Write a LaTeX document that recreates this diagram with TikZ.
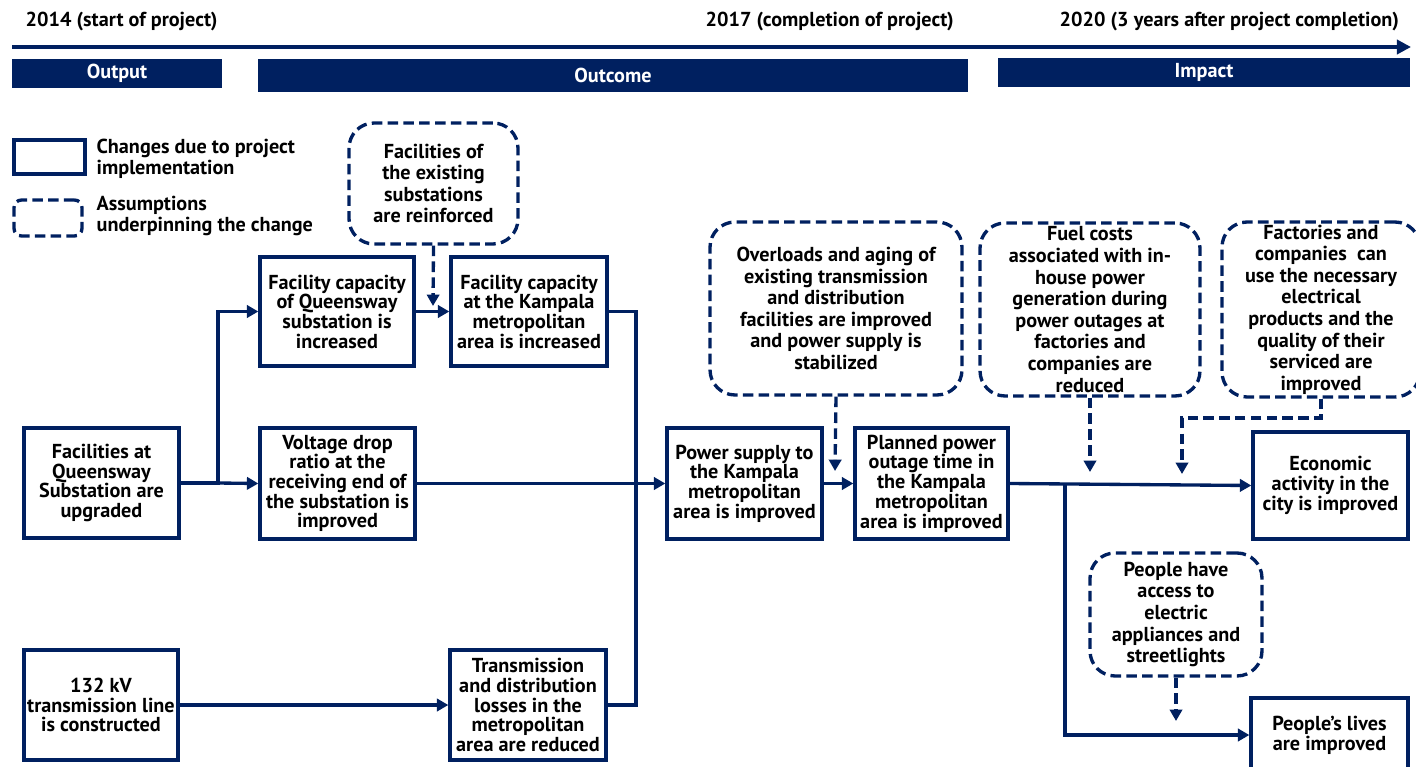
\documentclass[tikz,border=0pt]{standalone}
\usepackage{fontspec}
\setmainfont{PT Sans}
\usetikzlibrary{arrows.meta}
\definecolor{navy}{HTML}{002060}

\begin{document}
\begin{tikzpicture}[x=0.02cm,y=-0.02cm,>={Triangle[length=6.5pt,width=7pt]},
      line width=1.9pt,draw=navy,
      chg/.style={draw=navy,line width=1.9pt,inner sep=1pt,align=center,
        font=\bfseries\fontsize{11.5}{11.2}\selectfont},
      asm/.style={draw=navy,line width=1.9pt,dash pattern=on 6pt off 3pt,
        rounded corners=0.5cm,inner sep=1pt,align=center,
        font=\bfseries\fontsize{11.5}{12.3}\selectfont},
      bar/.style={fill=navy,text=white,inner sep=0pt,
        font=\bfseries\fontsize{11.5}{12}\selectfont},
      yr/.style={anchor=west,inner sep=0pt,font=\bfseries\fontsize{11.5}{12}\selectfont},
      dsh/.style={draw=navy,dash pattern=on 6pt off 3pt}]
    \useasboundingbox (0,0) rectangle (1416,767);

    % time line
    \coordinate (t0) at (12,47);
    \coordinate (t1) at (1411,47);
    \draw[line width=2.8pt,-{Triangle[length=8pt,width=8pt]}] (t0) -- (t1);
    \node[yr] (y14) at (24,22) {2014 (start of project)};
    \node[yr] (y17) at (704,22) {2017 (completion of project)};
    \node[yr] (y20) at (1058,22) {2020 (3 years after project completion)};

    \node[bar,minimum width=4.2cm,minimum height=0.58cm] (output) at (117,73.5) {Output};
    \node[bar,minimum width=14.2cm,minimum height=0.66cm] (outcome) at (613,75.5) {Outcome};
    \node[bar,minimum width=8.24cm,minimum height=0.58cm] (impact) at (1204,72.5) {Impact};

    % legend
    \node[chg,minimum width=1.42cm,minimum height=0.68cm] (lgc) at (49.5,157) {};
    \node[asm,minimum width=1.36cm,minimum height=0.72cm,rounded corners=0.15cm] (lga) at (48,218) {};
    \node[yr,align=left,font=\bfseries\fontsize{11.5}{12.3}\selectfont] (lgct) at (95,159)
      {Changes due to project\\implementation};
    \node[yr,align=left,font=\bfseries\fontsize{11.5}{12.3}\selectfont] (lgat) at (95,216)
      {Assumptions\\underpinning the change};

    % changes
    \node[chg,minimum width=3.1cm,minimum height=2.2cm] (fq) at (101.5,483) {Facilities at\\Queensway\\Substation are\\upgraded};
    \node[chg,minimum width=3.08cm,minimum height=2.18cm] (cq) at (337,311.5) {Facility capacity\\of Queensway\\substation is\\increased};
    \node[chg,minimum width=3.12cm,minimum height=2.18cm] (ck) at (529,311.5) {Facility capacity\\at the Kampala\\metropolitan\\area is increased};
    \node[chg,minimum width=3.1cm,minimum height=2.22cm] (vd) at (337.5,483.5) {Voltage drop\\ratio at the\\receiving end of\\the substation is\\improved};
    \node[chg,minimum width=3.08cm,minimum height=2.2cm] (tl) at (101,705) {132 kV\\transmission line\\is constructed};
    \node[chg,minimum width=3.12cm,minimum height=2.2cm] (td) at (528,705) {Transmission\\and distribution\\losses in the\\metropolitan\\area are reduced};
    \node[chg,minimum width=3.1cm,minimum height=2.22cm] (ps) at (744.5,483.5) {Power supply to\\the Kampala\\metropolitan\\area is improved};
    \node[chg,minimum width=3.06cm,minimum height=2.22cm] (po) at (931.5,483.5) {Planned power\\outage time in\\the Kampala\\metropolitan\\area is improved};
    \node[chg,minimum width=3.1cm,minimum height=2.14cm] (ea) at (1330.5,485.5) {Economic\\activity in the\\city is improved};
    \node[chg,minimum width=3.14cm,minimum height=1.48cm] (pl) at (1329.5,735) {People’s lives\\are improved};

    % assumptions
    \node[asm,minimum width=3.38cm,minimum height=2.42cm] (re) at (433.5,183.5) {Facilities of\\the existing\\substations\\are reinforced};
    \node[asm,minimum width=5.04cm,minimum height=3.46cm] (ov) at (836,308.5) {Overloads and aging of\\existing transmission\\and distribution\\facilities are improved\\and power supply is\\stabilized};
    \node[asm,minimum width=4.4cm,minimum height=3.46cm] (fc) at (1090,309.5) {Fuel costs\\associated with in-\\house power\\generation during\\power outages at\\factories and\\companies are\\reduced};
    \node[asm,minimum width=3.96cm,minimum height=3.5cm] (fa) at (1321,309.5) {Factories and\\companies\ \ can\\use the necessary\\electrical\\products and the\\quality of their\\serviced are\\improved};
    \node[asm,minimum width=3.44cm,minimum height=2.46cm] (pa) at (1176,614.5) {People have\\access to\\electric\\appliances and\\streetlights};

    % connectors
    \coordinate (sp1) at (218,483);
    \coordinate (jn) at (636,483.5);
    \coordinate (sp2) at (1065,484.5);
    \coordinate (reend) at (433,306);
    \coordinate (ovend) at (835,471);
    \coordinate (fcend) at (1090,472);
    \coordinate (fabend) at (1182,418);
    \coordinate (faend) at (1182,474);
    \coordinate (paend) at (1176,721);

    \draw[->] (fq.east) -- (sp1) |- (cq.west);
    \draw[->] (sp1) -- (vd.west);
    \draw[->] (cq) -- (ck);
    \draw (ck.east) -| (jn);
    \draw (td.east) -| (jn);
    \draw[->] (vd.east) -- (ps.west);
    \draw[->] (tl) -- (td);
    \draw[->] (ps) -- (po);
    \draw[->] (po.east) -- (ea.west);
    \draw[->] (sp2) |- (pl.west);

    \draw[dsh,->] (re.south) -- (reend);
    \draw[dsh,->] (ov.south) -- (ovend);
    \draw[dsh,->] (fc.south) -- (fcend);
    \draw[dsh,->] (fa.south) |- (fabend) -- (faend);
    \draw[dsh,->] (pa.south) -- (paend);
\end{tikzpicture}
\end{document}
